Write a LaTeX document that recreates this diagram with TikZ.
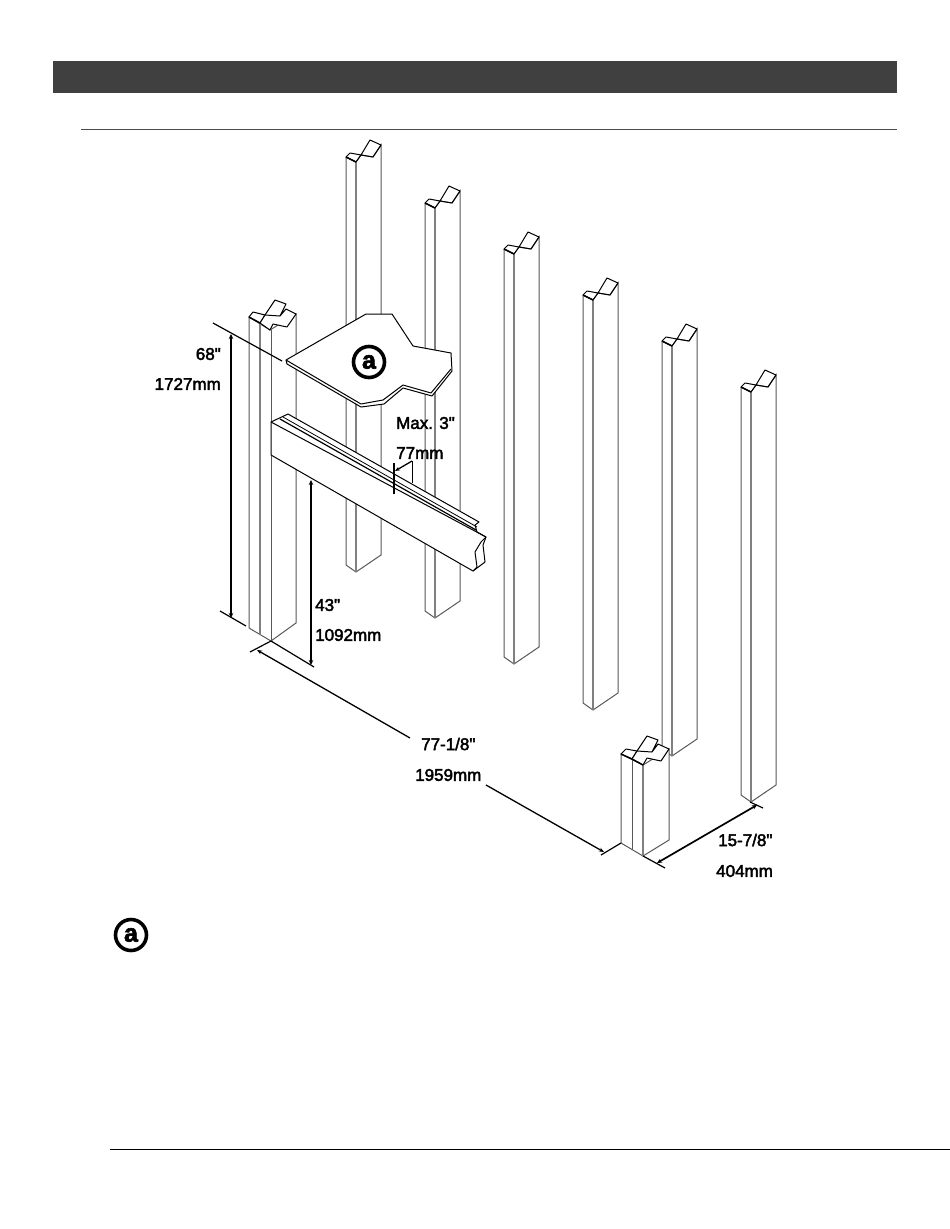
\documentclass[tikz,border=0pt]{standalone}
\usepackage{fontspec}
\usetikzlibrary{arrows.meta}
\setmainfont{Liberation Sans}[Ligatures=TeXOff,FakeBold=2.5]
\begin{document}
\begin{tikzpicture}[x=1pt,y=-1pt,
  blk/.style={line width=1pt,black,line join=round},
  gry/.style={line width=1.2pt,black!50},
  thinl/.style={line width=1pt,black!65},
  dim/.style={line width=1.3pt,black,-{Stealth[length=5pt,width=4pt]}},
  dimb/.style={line width=1.7pt,black,{Stealth[length=5pt,width=4.5pt]}-{Stealth[length=5pt,width=4.5pt]}},
  ext/.style={line width=1.2pt,black},
  lab/.style={font=\fontsize{17}{17}\selectfont,inner sep=0pt,anchor=west,text=black},
  circ/.style={circle,draw=black,line width=3.6pt,fill=white,minimum size=31pt,inner sep=0pt,font=\fontsize{25}{25}\selectfont\bfseries},
  column/.pic={
    \draw[thinl,fill=white] (346,157) -- (346,565) -- (356,572) -- (381,555) -- (381,145) -- (373,157) -- (361,155) -- (356,162) -- (346,157);
    \draw[gry] (356,162) -- (356,572);
    \draw[blk] (346,157) -- (350,153) -- (361,155) -- (370,140) -- (381,145) -- (373,157) -- (361,155) -- (356,162) -- cycle;
    \draw[line width=1.4pt] (346,157) -- (356,162);
  }
]
\useasboundingbox (0,0) rectangle (950,1229);
\fill[white] (0,0) rectangle (950,1229);
% header
\fill[black!75] (53,61) rectangle (897,93);
\draw[line width=0.9pt,black!70] (81,129) -- (897,129);
\draw[line width=1pt,black] (110,1149) -- (950,1149);

% columns
\foreach \dx/\dy/\n in {0/0/a,79/46/b,158/92/c,237/138/d,316/184/e,395/230/f}
  \pic (col\n) at (\dx,\dy) {column};

% front-left post
\draw[thinl,fill=white] (249,317) -- (249,628) -- (271,641) -- (296,623) -- (296,314) -- (270,330) -- cycle;
\draw[gry] (260,323) -- (260,635);
\draw[thinl] (271,330) -- (271,641);
\draw[blk,fill=white] (249,317) -- (253,312) -- (265,315) -- (260,323) -- cycle;
\draw[blk,fill=white] (265,315) -- (275,300) -- (286,304) -- (280,316) -- (286,309) -- (296,314) -- (287,327) -- (273,324) -- (270,330) -- (260,323) -- (265,315);
\draw[blk] (265,315) -- (280,316);
\draw[line width=1.4pt] (249,317) -- (260,323);

% front-right post
\draw[thinl,fill=white] (621,754) -- (621,843) -- (643,856) -- (669,840) -- (669,749) -- (643,765) -- cycle;
\draw[thinl] (632,759) -- (632,849);
\draw[gry] (643,765) -- (643,856);
\draw[blk,fill=white] (621,754) -- (626,749) -- (637,751) -- (632,759) -- cycle;
\draw[blk,fill=white] (637,751) -- (647,736) -- (658,740) -- (652,752) -- (658,744) -- (669,749) -- (661,761) -- (647,758) -- (643,765) -- (632,759) -- (637,751);
\draw[blk] (637,751) -- (652,752);
\draw[line width=1.4pt] (621,754) -- (632,759) -- (643,765);

% shelf (a)
\draw[blk,fill=white] (286,360) -- (287,364) -- (361,407) -- (384,404) -- (403,388) -- (432,396) -- (452,371) -- (451,353) -- (413,346) -- (392,314) -- (366,314) -- cycle;
\draw[blk] (286,360) -- (361,404) -- (383,400) -- (403,385) -- (431,393) -- (451,369);
\node[circ] (bubble1) at (369,362) {a};

% mantel
\draw[blk,fill=white] (271,422) -- (288,414) -- (479,522) -- (475,525) -- (477,532) -- (486,537) -- (483,545) -- (485,562) -- (473,571) -- (271,455) -- cycle;
\draw[blk] (271,422) -- (486,537);
\draw[blk] (486,537) -- (481,542) -- (475,552) -- (477,567) -- (473,571);
\draw[line width=1.2pt] (280,419) -- (476,530);
\draw[line width=0.8pt] (283,417) -- (477,527);

% Max 3" dimension
\coordinate (tick1) at (394,463);
\coordinate (tick2) at (394,494);
\draw[line width=1.7pt] (tick1) -- (tick2);
\coordinate (lead) at (412,461);
\coordinate (leadb) at (412,483);
\draw[line width=0.9pt] (lead) -- (leadb);
\draw[dim] (lead) -- (395,471);

% dimension 68"
\coordinate (e1a) at (213,323);
\coordinate (e1b) at (282,361);
\draw[ext] (e1a) -- (e1b);
\coordinate (e2a) at (220,611);
\coordinate (e2b) at (246,626);
\draw[ext] (e2a) -- (e2b);
\coordinate (d1a) at (231,334);
\coordinate (d1b) at (231,618);
\draw[dimb] (d1a) -- (d1b);

% dimension 43"
\coordinate (e3a) at (271,641);
\coordinate (e3b) at (314,667);
\draw[ext] (e3a) -- (e3b);
\coordinate (d2a) at (311,480);
\coordinate (d2b) at (311,665);
\draw[dimb] (d2a) -- (d2b);

% dimension 77-1/8"
\coordinate (e4a) at (250,652);
\coordinate (e4b) at (271,641);
\draw[ext] (e4a) -- (e4b);
\coordinate (e5a) at (601,855);
\coordinate (e5b) at (621,843);
\draw[ext] (e5a) -- (e5b);
\coordinate (d3a) at (257,650);
\coordinate (d3b) at (410,738);
\coordinate (d3c) at (486,785);
\coordinate (d3d) at (604,852);
\draw[dim] (d3b) -- (d3a);
\draw[dim] (d3c) -- (d3d);

% dimension 15-7/8"
\coordinate (e6a) at (643,856);
\coordinate (e6b) at (665,868);
\draw[ext] (e6a) -- (e6b);
\coordinate (e7a) at (750,802);
\coordinate (e7b) at (763,808);
\draw[ext] (e7a) -- (e7b);
\draw[dimb] (657,863) -- (757,805);

% labels
\node[lab,anchor=east] (l1) at (221,354) {68"};
\node[lab,anchor=east] (l2) at (221,384) {1727mm};
\node[lab] (l3) at (315,605) {43"};
\node[lab] (l4) at (315,635) {1092mm};
\node[lab] (l5) at (396,423) {Max. 3"};
\node[lab] (l6) at (396,453) {77mm};
\node[lab] (l7) at (421,744) {77-1/8"};
\node[lab] (l8) at (415,775) {1959mm};
\node[lab] (l9) at (718,840) {15-7/8"};
\node[lab] (l10) at (716,871) {404mm};
\node[circ] (bubble2) at (131,935) {a};
\end{tikzpicture}
\end{document}
